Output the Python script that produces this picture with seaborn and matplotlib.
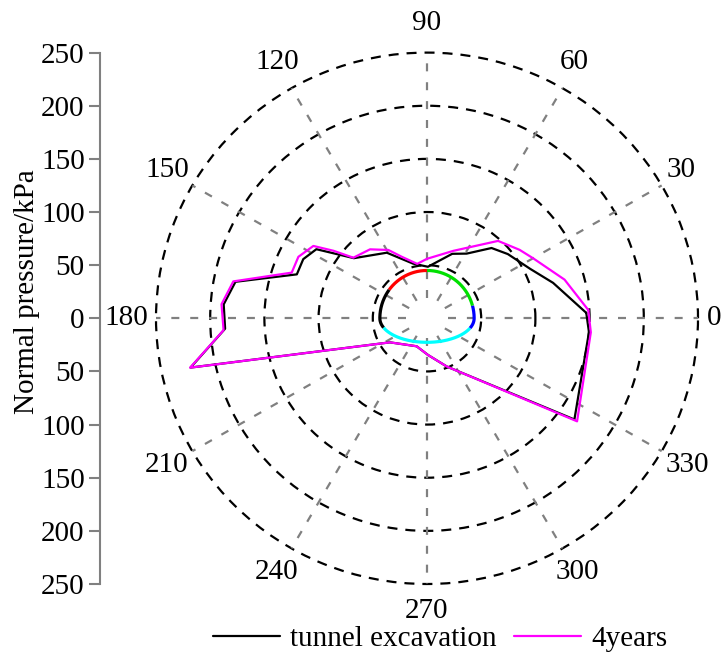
import numpy as np
import pandas as pd
import matplotlib
matplotlib.use("Agg")
import matplotlib.pyplot as plt
import seaborn as sns
from matplotlib.lines import Line2D

# Normal earth pressure on the lining: polar angle (deg) and pressure (kPa)
excavation_angle = [2, 16, 26, 39, 48, 59, 69, 89, 104, 121, 140, 147.5, 154, 161,
                    169, 176, 183, 192, 213.5, 250, 271.5, 292, 325, 355]
excavation_kpa = [147, 121, 106, 96, 89, 71, 65, 48.5, 53, 72, 88, 121, 127, 127,
                  180, 188, 186.5, 223, 41, 28, 34.5, 49, 166, 150]

four_year_angle = [3, 16, 30, 37, 48, 69, 90, 100, 112, 119, 129, 140, 143.6, 147,
                   154, 161, 169, 176, 183.4, 192, 213.5, 250, 271.5, 292, 325, 355]
four_year_kpa = [149, 132, 113, 107, 98, 68, 56, 52, 62.5, 73.5, 83.5, 88.7, 107, 125,
                 132, 132, 182, 190, 188, 223.4, 41, 28, 34.5, 49, 169, 151.7]

series_names = ["tunnel excavation", "4years"]
series_colors = ["black", "#ff00ff"]

angle_ticks = [0, 30, 60, 90, 120, 150, 180, 210, 240, 270, 300, 330]
ring_ticks = [50, 100, 150, 200, 250]
pressure_ticks = [250, 200, 150, 100, 50, 0, -50, -100, -150, -200, -250]
spoke_inner = 19

# Tunnel cross-section sketch (horseshoe) and its coloured lining zones
tunnel_half_width = 43.5
tunnel_crown = 45.0
tunnel_invert = 22.6
zone_bounds = [(15.7, 90.0), (90.0, 142.5), (142.5, 192.5), (192.5, 347.0), (347.0, 15.7)]
zone_colors = ["#00e000", "#ff0000", "black", "#00ffff", "#0000ff"]

FS = 21

sns.set_theme(style="white")
plt.rcParams["font.family"] = ["Liberation Serif", "DejaVu Serif"]
plt.rcParams["text.color"] = "black"
plt.rcParams["axes.labelcolor"] = "black"
plt.rcParams["xtick.color"] = "black"
plt.rcParams["ytick.color"] = "black"

W, H = 721, 656
fig = plt.figure(figsize=(W / 100, H / 100), dpi=100)

ax = fig.add_axes([156 / W, 1 - 584 / H, 542 / W, 531.4 / H], projection="polar")
ax.set_aspect("auto")
ax.patch.set_visible(False)

# data lines
rows = []
for name, angs, vals in [(series_names[0], excavation_angle, excavation_kpa),
                         (series_names[1], four_year_angle, four_year_kpa)]:
    closed_a = list(angs) + [angs[0]]
    closed_v = list(vals) + [vals[0]]
    for i, (a, v) in enumerate(zip(closed_a, closed_v)):
        rows.append({"series": name, "order": i, "theta": np.deg2rad(a), "kpa": v})
df = pd.DataFrame(rows)

sns.lineplot(data=df, x="theta", y="kpa", hue="series", hue_order=series_names,
             palette=dict(zip(series_names, series_colors)), sort=False,
             estimator=None, linewidth=1.6, legend=False, ax=ax, zorder=5)

# tunnel outline
t = np.linspace(0, 2 * np.pi, 7201)
tx = tunnel_half_width * np.cos(t)
ty = np.where(np.sin(t) >= 0, tunnel_crown, tunnel_invert) * np.sin(t)
tdeg = np.mod(np.degrees(np.arctan2(ty, tx)), 360)
tr = np.hypot(tx, ty)
for (s, e), col in zip(zone_bounds, zone_colors):
    rel = np.mod(tdeg - s, 360)
    span = np.mod(e - s, 360)
    m = rel <= span
    order = np.argsort(rel[m])
    ax.plot(np.radians(tdeg[m][order]), tr[m][order], color=col, lw=2.3,
            solid_capstyle="butt", zorder=6)

# radial spokes (gray dashed) from a small inner radius to the outer ring
for a in angle_ticks:
    th = np.deg2rad(a)
    ax.plot([th, th], [spoke_inner, ring_ticks[-1]], color="#808080", lw=1.6,
            linestyle=(0, (3.6, 4.9)), zorder=1, clip_on=False)

ax.set_xlabel("")
ax.set_ylabel("")
ax.set_xlim(0, 2 * np.pi)
ax.set_ylim(0, 250)
ax.set_yticks(ring_ticks)
ax.set_yticklabels([])
ax.set_xticks(np.deg2rad(angle_ticks))
ax.set_xticklabels([])
ax.tick_params(length=0)
ax.spines["polar"].set_visible(False)
ax.xaxis.grid(False)
ax.yaxis.grid(True, color="black", linestyle=(0, (4.5, 3.6)), linewidth=1.6)
for gl in ax.yaxis.get_gridlines():
    gl.set_clip_on(False)

# angle labels around the outer ring
for a in angle_ticks:
    th = np.deg2rad(a)
    c, s = np.cos(th), np.sin(th)
    half_w = 6.8 * len(str(a))
    dy = s * (30 if s > 0 else 27)
    ax.annotate(str(a), xy=(th, 250), xytext=(c * (9 + half_w), dy),
                textcoords="offset pixels", ha="center", va="center",
                fontsize=FS, annotation_clip=False)

# pressure scale on the left
lax = fig.add_axes([100 / W, 1 - 584 / H, 0.002, 531.4 / H])
lax.patch.set_visible(False)
lax.set_ylim(-250, 250)
lax.set_yticks(pressure_ticks)
lax.set_yticklabels([str(abs(v)) for v in pressure_ticks])
lax.set_xticks([])
for sp in ["top", "right", "bottom"]:
    lax.spines[sp].set_visible(False)
lax.spines["left"].set_color("#808080")
lax.spines["left"].set_linewidth(1.5)
lax.tick_params(axis="y", direction="out", length=8, width=1.5, color="#808080",
                labelsize=FS, pad=3, left=True)
fig.text(27 / W, 1 - 292 / H, "Normal pressure/kPa", rotation=90,
         ha="center", va="center", fontsize=FS)

handles = [Line2D([], [], color=c, lw=1.6) for c in series_colors]
fig.legend(handles, series_names, loc="center", bbox_to_anchor=(440 / W, 1 - 639 / H),
           ncol=2, frameon=False, fontsize=FS, handlelength=2.3, handletextpad=0.35,
           columnspacing=0.6, borderpad=0, borderaxespad=0)

fig.savefig("out.png", dpi=100)
